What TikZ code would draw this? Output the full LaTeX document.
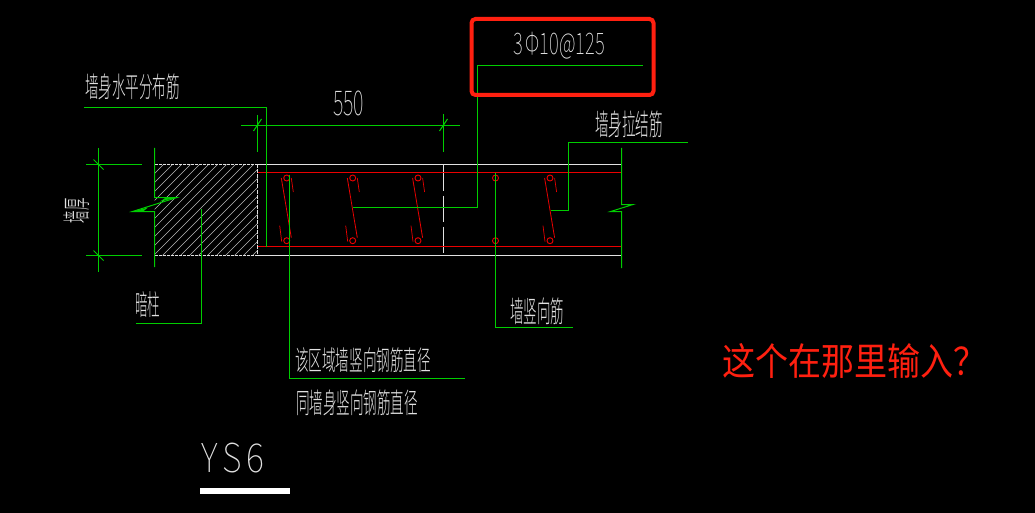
\documentclass[tikz,border=0pt]{standalone}
\usepackage{fontspec}
\usepackage{graphicx}
\newfontfamily\cjkthin{Noto Sans CJK SC Light}
\newfontfamily\cjkhair{Noto Sans CJK SC Thin}
\newfontfamily\cjkreg{Noto Sans CJK SC}
\setmainfont{Liberation Sans}
\newcommand{\cadfit}[3]{\resizebox*{#1pt}{#2pt}{\cjkthin #3}}
\newcommand{\latfit}[3]{\resizebox*{#1pt}{#2pt}{\cjkhair #3}}
\definecolor{cadgreen}{RGB}{0,205,0}
\definecolor{cadred}{RGB}{235,0,0}
\definecolor{markred}{RGB}{255,32,16}
\definecolor{cadwhite}{RGB}{225,225,225}
\tikzset{
  gl/.style={draw=cadgreen,line width=1pt},
  wl/.style={draw=cadwhite,line width=1pt},
  rl/.style={draw=cadred,line width=1pt},
  hatchline/.style={draw=gray!55,line width=.5pt},
  cadlabel/.style={text=cadwhite,inner sep=0pt,outer sep=0pt,anchor=center},
  stirrupcirc/.style={circle,draw=cadred,line width=.9pt,minimum size=6pt,inner sep=0pt}
}
\newcommand{\stirrup}[2]{%
  \node[stirrupcirc] (#2t) at (#1,178) {};
  \node[stirrupcirc] (#2b) at (#1,240.7) {};
  \draw[rl,line width=.8pt] ([xshift=-5.4pt]#2t.center) -- ([xshift=4.6pt,yshift=3pt]#2b.center);
  \draw[rl,line width=.7pt] ([xshift=4.6pt]#2t.center) -- ([xshift=6.6pt,yshift=-14pt]#2t.center);
  \draw[rl,line width=.7pt] ([xshift=-7pt,yshift=15pt]#2b.center) -- ([xshift=-5pt,yshift=-1pt]#2b.center);
}
\begin{document}
\begin{tikzpicture}[x=1pt,y=-1pt]
\fill[black] (0,0) rectangle (1035,513);
\useasboundingbox (0,0) rectangle (1035,513);

% hatching of the column
\begin{scope}
\clip (154.5,164.5) rectangle (257.5,255.5);
\foreach \k in {0,9,...,207}{
  \draw[hatchline] (154.5+\k-91,255.5) -- (154.5+\k,164.5);
}
\end{scope}
\draw[wl,dash pattern=on 3pt off 1pt] (154.5,255.5) -- (257.5,255.5);
\draw[wl,dash pattern=on 3pt off 1pt] (154.5,164.5) -- (257.5,164.5);
\draw[wl,dash pattern=on 4pt off 1pt] (257.5,164.5) -- (257.5,255.5);

% wall outline
\draw[wl] (257.5,164.5) -- (621.5,164.5);
\draw[wl] (257.5,255.5) -- (621.5,255.5);
\draw[wl,dash pattern=on 26pt off 5pt] (443.5,164.5) -- (443.5,255.5);

% horizontal bars
\draw[rl] (257.5,172.5) -- (621.5,172.5);
\draw[rl] (257.5,246.5) -- (621.5,246.5);

% stirrups
\stirrup{286.7}{sa}
\stirrup{352.7}{sb}
\stirrup{418}{sc}
\stirrup{550}{sd}
\node[stirrupcirc] (vt) at (495.5,178) {};
\node[stirrupcirc] (vb) at (495.5,240.7) {};

% break lines
\draw[gl] (154.5,148) -- (154.5,197.5) -- (177,197.5) -- (132.5,211.5) -- (154.5,211.5) -- (154.5,267);
\fill[cadgreen] (177,197.5) -- (166,197.5) -- (160,201.5) -- cycle;
\fill[cadgreen] (132.5,211.5) -- (143,211.5) -- (148,207.5) -- cycle;
\draw[gl] (621.5,148) -- (621.5,204.5) -- (633,204.5) -- (610.7,211.5) -- (621.5,211.5) -- (621.5,268);

% dimensions
\draw[gl] (241,125.5) -- (460,125.5);
\draw[gl] (257.5,115) -- (257.5,152);
\draw[gl] (443.5,114) -- (443.5,152);
\draw[gl] (253.5,131) -- (261.5,119);
\draw[gl] (439.5,131) -- (447.5,119);
\draw[gl] (98.5,148) -- (98.5,272);
\draw[gl] (86,164.5) -- (141.5,164.5);
\draw[gl] (86,255.5) -- (141.5,255.5);
\draw[gl] (93.5,159.5) -- (103.5,169.5);
\draw[gl] (93.5,250.5) -- (103.5,260.5);

% leaders
\coordinate (h1) at (84,107.5);
\coordinate (h2) at (266.5,107.5);
\coordinate (h3) at (266.5,247);
\draw[gl] (h1) -- (h2) -- (h3);
\coordinate (m1) at (642.7,65.5);
\coordinate (m2) at (477.5,65.5);
\coordinate (m3) at (477.5,207.5);
\coordinate (m4) at (352.7,207.5);
\draw[gl] (m1) -- (m2) -- (m3) -- (m4);
\coordinate (p1) at (688,142.5);
\coordinate (p2) at (568.5,142.5);
\coordinate (p3) at (568.5,210.5);
\coordinate (p4) at (550.7,210.5);
\draw[gl] (p1) -- (p2) -- (p3) -- (p4);
\coordinate (c1) at (201.5,209);
\coordinate (c2) at (201.5,323.5);
\coordinate (c3) at (136,323.5);
\draw[gl] (c1) -- (c2) -- (c3);
\coordinate (d1) at (289.5,175);
\coordinate (d2) at (289.5,378.5);
\coordinate (d3) at (465,378.5);
\draw[gl] (d1) -- (d2) -- (d3);
\coordinate (w1) at (495.5,173);
\coordinate (w2) at (495.5,327.5);
\coordinate (w3) at (573,327.5);
\draw[gl] (w1) -- (w2) -- (w3);

% red marker
\draw[markred,line width=4pt,rounded corners=4pt] (471.5,19) rectangle (653.5,95);

% white bar
\fill[white] (200,488) rectangle (290,494);

% labels
\node[cadlabel] (t1) at (132.5,87) {\cadfit{95}{26}{墙身水平分布筋}};
\node[cadlabel] (t2) at (629,124) {\cadfit{68}{27}{墙身拉结筋}};
\node[cadlabel] (t3) at (147.5,305) {\cadfit{25}{26}{暗柱}};
\node[cadlabel] (t4) at (363,360.5) {\cadfit{136}{25}{该区域墙竖向钢筋直径}};
\node[cadlabel] (t5) at (357,403) {\cadfit{122}{26}{同墙身竖向钢筋直径}};
\node[cadlabel] (t6) at (537,311.5) {\cadfit{54}{27}{墙竖向筋}};
\node[cadlabel,rotate=90] (t7) at (76.5,210.5) {\cadfit{25}{26}{墙厚}};
\node[cadlabel] (t8) at (348.5,103) {\latfit{31}{25}{550}};
\node[cadlabel] (t9) at (559,46) {\latfit{92}{27}{3\,Φ10@125}};
\node[cadlabel] (t10) at (233,458) {\latfit{62}{30}{Y\kern.12em S\kern.12em 6}};
\node[inner sep=0pt,text=markred,anchor=center] (t11) at (854,361) {\resizebox*{264pt}{35pt}{\cjkreg 这个在那里输入？}};
\end{tikzpicture}
\end{document}
